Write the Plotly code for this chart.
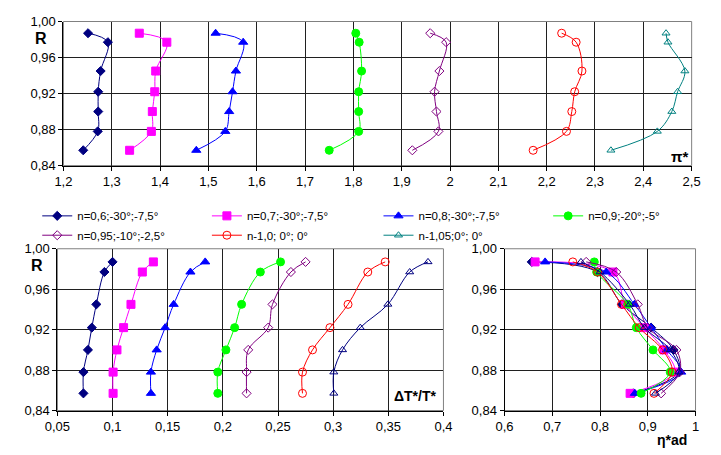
import plotly.graph_objects as go

W, H = 721, 455

# ---------------- data ----------------
R = [0.987, 0.977, 0.945, 0.922, 0.900, 0.878, 0.857]

names = ["n=0,6;-30°;-7,5°", "n=0,7;-30°;-7,5°", "n=0,8;-30°;-7,5°", "n=0,9;-20°;-5°",
         "n=0,95;-10°;-2,5°", "n-1,0; 0°; 0°", "n-1,05;0°; 0°"]

pi_1 = [1.251, 1.292, 1.277, 1.272, 1.272, 1.271, 1.241]
pi_2 = [1.357, 1.414, 1.391, 1.389, 1.384, 1.382, 1.337]
pi_3 = [1.515, 1.572, 1.557, 1.550, 1.543, 1.535, 1.475]
pi_4 = [1.805, 1.812, 1.817, 1.811, 1.811, 1.811, 1.750]
pi_5 = [1.959, 1.992, 1.978, 1.968, 1.972, 1.976, 1.922]
pi_6 = [2.231, 2.261, 2.273, 2.258, 2.252, 2.241, 2.172]
pi_7 = [2.447, 2.451, 2.486, 2.471, 2.459, 2.429, 2.333]

dT_1 = [0.100, 0.0926, 0.0853, 0.0812, 0.0777, 0.0736, 0.0736]
dT_2 = [0.137, 0.127, 0.1167, 0.110, 0.104, 0.1005, 0.1005]
dT_3 = [0.184, 0.1706, 0.1554, 0.1477, 0.140, 0.1348, 0.1348]
dT_4 = [0.2523, 0.234, 0.217, 0.2107, 0.2028, 0.1954, 0.1954]
dT_5 = [0.275, 0.2617, 0.245, 0.2411, 0.223, 0.2215, 0.2215]
dT_6 = [0.3472, 0.3314, 0.3135, 0.2971, 0.2813, 0.2722, 0.2722]
dT_7 = [0.386, 0.3694, 0.3496, 0.3246, 0.3085, 0.3006, 0.3006]

eta_1 = [0.657, 0.795, 0.846, 0.907, 0.954, 0.965, 0.870]
eta_2 = [0.664, 0.827, 0.853, 0.893, 0.934, 0.956, 0.863]
eta_3 = [0.685, 0.813, 0.872, 0.907, 0.940, 0.970, 0.873]
eta_4 = [0.788, 0.793, 0.858, 0.876, 0.911, 0.947, 0.886]
eta_5 = [0.771, 0.834, 0.879, 0.900, 0.960, 0.967, 0.928]
eta_6 = [0.743, 0.795, 0.845, 0.882, 0.931, 0.951, 0.913]
eta_7 = [0.760, 0.800, 0.862, 0.893, 0.947, 0.965, 0.916]

y_ticks = [0.84, 0.88, 0.92, 0.96, 1.00]
y_text = ["0,84", "0,88", "0,92", "0,96", "1,00"]
pi_ticks = [1.2, 1.3, 1.4, 1.5, 1.6, 1.7, 1.8, 1.9, 2.0, 2.1, 2.2, 2.3, 2.4, 2.5]
pi_text = ["1,2", "1,3", "1,4", "1,5", "1,6", "1,7", "1,8", "1,9", "2", "2,1", "2,2", "2,3", "2,4", "2,5"]
dT_ticks = [0.05, 0.1, 0.15, 0.2, 0.25, 0.3, 0.35, 0.4]
dT_text = ["0,05", "0,1", "0,15", "0,2", "0,25", "0,3", "0,35", "0,4"]
eta_ticks = [0.6, 0.7, 0.8, 0.9, 1.0]
eta_text = ["0,6", "0,7", "0,8", "0,9", "1"]

# ---------------- styles ----------------
colors = ["#000080", "#FF00FF", "#0000FF", "#00FF00", "#800080", "#FF0000", "#008080"]
bottom_colors = ["#000080", "#FF00FF", "#0000FF", "#00FF00", "#800080", "#FF0000", "#000080"]
symbols = ["diamond", "square", "triangle-up", "circle", "diamond-open", "circle-open", "triangle-up-open"]
sizes = [7, 8, 8, 8, 7, 8, 7]

pi_all = [pi_1, pi_2, pi_3, pi_4, pi_5, pi_6, pi_7]
dT_all = [dT_1, dT_2, dT_3, dT_4, dT_5, dT_6, dT_7]
eta_all = [eta_1, eta_2, eta_3, eta_4, eta_5, eta_6, eta_7]

FONT = "Liberation Sans, Arial, sans-serif"

def px(x):
    return x / W

def py(y):
    return 1 - y / H

# legend entry positions (pixels): left edge x, top y
leg_pos = [(25, 201), (200, 201), (377, 201), (552, 201),
           (25, 221), (200, 221), (377, 221)]
leg_ids = ["legend"] + [f"legend{i}" for i in range(2, 8)]

fig = go.Figure()

for i in range(7):
    fig.add_trace(go.Scatter(
        x=pi_all[i], y=R, mode="lines+markers", name=names[i],
        line=dict(color=colors[i], width=1, shape="spline"),
        marker=dict(symbol=symbols[i], size=sizes[i], color=colors[i],
                    line=dict(color=colors[i], width=1)),
        xaxis="x", yaxis="y", legend=leg_ids[i]))
for i in range(7):
    fig.add_trace(go.Scatter(
        x=dT_all[i], y=R, mode="lines+markers", showlegend=False,
        line=dict(color=bottom_colors[i], width=1, shape="spline"),
        marker=dict(symbol=symbols[i], size=sizes[i], color=bottom_colors[i],
                    line=dict(color=bottom_colors[i], width=1)),
        xaxis="x2", yaxis="y2"))
for i in range(7):
    fig.add_trace(go.Scatter(
        x=eta_all[i], y=R, mode="lines+markers", showlegend=False,
        line=dict(color=bottom_colors[i], width=1, shape="spline"),
        marker=dict(symbol=symbols[i], size=sizes[i], color=bottom_colors[i],
                    line=dict(color=bottom_colors[i], width=1)),
        xaxis="x3", yaxis="y3"))

axcommon = dict(showgrid=True, gridcolor="#202020", gridwidth=1, zeroline=False,
                showline=True, linecolor="#000000", linewidth=1, ticks="outside",
                ticklen=4, tickcolor="#000000", tickmode="array",
                tickfont=dict(family=FONT, size=13, color="#000000"))

top_x = [52, 700]
top_y = [15, 164]
bl_x = [45.8, 444]
br_x = [507, 704]
bot_y = [250, 417.3]

layout = dict(
    width=W, height=H, margin=dict(l=0, r=0, t=0, b=0),
    paper_bgcolor="white", plot_bgcolor="white",
    font=dict(family=FONT, color="#000000"),
    xaxis=dict(axcommon, domain=[px(top_x[0]), px(top_x[1])], range=[1.2, 2.5],
               tickvals=pi_ticks, ticktext=pi_text, anchor="y"),
    yaxis=dict(axcommon, domain=[py(top_y[1]), py(top_y[0])], range=[0.84, 1.0],
               tickvals=y_ticks, ticktext=y_text, anchor="x"),
    xaxis2=dict(axcommon, domain=[px(bl_x[0]), px(bl_x[1])], range=[0.05, 0.4],
                tickvals=dT_ticks, ticktext=dT_text, anchor="y2"),
    yaxis2=dict(axcommon, domain=[py(bot_y[1]), py(bot_y[0])], range=[0.84, 1.0],
                tickvals=y_ticks, ticktext=y_text, anchor="x2"),
    xaxis3=dict(axcommon, domain=[px(br_x[0]), px(br_x[1])], range=[0.6, 1.0],
                tickvals=eta_ticks, ticktext=eta_text, anchor="y3"),
    yaxis3=dict(axcommon, domain=[py(bot_y[1]), py(bot_y[0])], range=[0.84, 1.0],
                tickvals=y_ticks, ticktext=y_text, anchor="x3"),
)
for lid, (lx, ly) in zip(leg_ids, leg_pos):
    layout[lid] = dict(orientation="h", x=px(lx), y=py(ly), xanchor="left", yanchor="top",
                       itemwidth=30, font=dict(family=FONT, size=11.5, color="#000000"),
                       bgcolor="rgba(0,0,0,0)")
fig.update_layout(**layout)

# plot area frames (gray)
for xr, yr in [("x", "y"), ("x2", "y2"), ("x3", "y3")]:
    fig.add_shape(type="rect", xref=f"{xr} domain", yref=f"{yr} domain",
                  x0=0, x1=1, y0=0, y1=1, line=dict(color="#808080", width=1),
                  layer="below")

ann = [
    ("<b>R</b>", 29, 33, 16),
    ("<b>R</b>", 25, 267, 16),
    ("<b>π*</b>", 687, 155, 15),
    ("<b>ΔT*/T*</b>", 415, 402, 14),
    ("<b>η*ad</b>", 680, 448, 14),
]
for t, x, y, s in ann:
    fig.add_annotation(text=t, x=px(x), y=py(y), xref="paper", yref="paper",
                       showarrow=False, xanchor="center", yanchor="middle",
                       font=dict(family=FONT, size=s, color="#000000"))

fig.write_html("out.html")
